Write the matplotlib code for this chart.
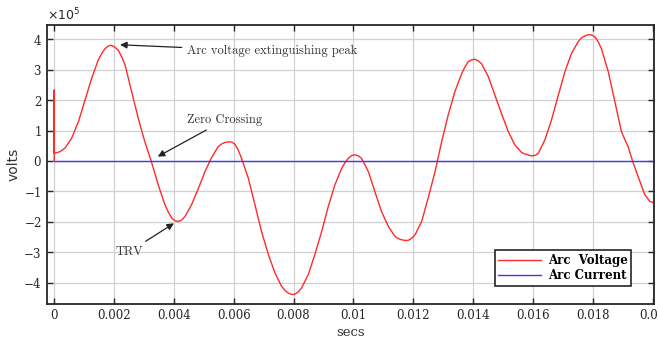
import matplotlib
matplotlib.use("Agg")
import matplotlib.pyplot as plt
from matplotlib.ticker import ScalarFormatter

# arc voltage samples (time in s, voltage in V)
t_voltage = [
    0.0, 0.0, 0.0, 0.00018, 0.00036, 0.00058, 0.00081, 0.00103, 0.00125, 0.00147,
    0.00160, 0.00170, 0.00180, 0.00189, 0.00200, 0.00214, 0.00225, 0.00237, 0.00259, 0.00281,
    0.00303, 0.00324, 0.00348, 0.00370, 0.00382, 0.00393, 0.00403, 0.00413, 0.00425, 0.00437,
    0.00459, 0.00482, 0.00504, 0.00526, 0.00548, 0.00560, 0.00571, 0.00587, 0.00595, 0.00604,
    0.00615, 0.00626, 0.00649, 0.00671, 0.00693, 0.00716, 0.00738, 0.00760, 0.00771, 0.00782,
    0.00792, 0.00802, 0.00815, 0.00827, 0.00849, 0.00871, 0.00894, 0.00916, 0.00938, 0.00961,
    0.00972, 0.00983, 0.00995, 0.01005, 0.01016, 0.01027, 0.01050, 0.01072, 0.01094, 0.01117,
    0.01139, 0.01150, 0.01161, 0.01172, 0.01183, 0.01195, 0.01206, 0.01228, 0.01250, 0.01273,
    0.01295, 0.01317, 0.01339, 0.01362, 0.01373, 0.01384, 0.01395, 0.01406, 0.01417, 0.01428,
    0.01451, 0.01473, 0.01495, 0.01518, 0.01540, 0.01562, 0.01573, 0.01584, 0.01593, 0.01601,
    0.01609, 0.01618, 0.01640, 0.01662, 0.01685, 0.01707, 0.01729, 0.01751, 0.01762, 0.01774,
    0.01782, 0.01790, 0.01798, 0.01807, 0.01818, 0.01829, 0.01852, 0.01874, 0.01896, 0.01919,
    0.01933, 0.01952, 0.01974, 0.01991, 0.02000, 0.02010,
]
v_voltage = [
    0.0, 2.33e5, 0.25e5, 0.30e5, 0.42e5, 0.74e5, 1.29e5, 2.00e5, 2.71e5, 3.31e5,
    3.55e5, 3.69e5, 3.77e5, 3.80e5, 3.76e5, 3.64e5, 3.43e5, 3.15e5, 2.27e5, 1.40e5,
    0.63e5, 0.0, -0.79e5, -1.44e5, -1.69e5, -1.88e5, -1.96e5, -1.99e5, -1.95e5, -1.83e5,
    -1.44e5, -0.90e5, -0.35e5, 0.11e5, 0.47e5, 0.56e5, 0.61e5, 0.63e5, 0.61e5, 0.55e5,
    0.36e5, 0.09e5, -0.57e5, -1.44e5, -2.32e5, -3.08e5, -3.68e5, -4.12e5, -4.25e5, -4.34e5,
    -4.38e5, -4.39e5, -4.31e5, -4.17e5, -3.74e5, -3.08e5, -2.32e5, -1.50e5, -0.79e5, -0.24e5,
    -0.06e5, 0.09e5, 0.18e5, 0.20e5, 0.17e5, 0.09e5, -0.35e5, -1.01e5, -1.66e5, -2.15e5,
    -2.48e5, -2.55e5, -2.59e5, -2.61e5, -2.61e5, -2.54e5, -2.43e5, -1.99e5, -1.22e5, -0.35e5,
    0.63e5, 1.51e5, 2.27e5, 2.87e5, 3.09e5, 3.26e5, 3.32e5, 3.34e5, 3.29e5, 3.20e5,
    2.77e5, 2.16e5, 1.56e5, 0.96e5, 0.52e5, 0.28e5, 0.23e5, 0.20e5, 0.17e5, 0.17e5,
    0.19e5, 0.25e5, 0.69e5, 1.34e5, 2.16e5, 2.93e5, 3.53e5, 3.91e5, 4.04e5, 4.11e5,
    4.14e5, 4.15e5, 4.13e5, 4.08e5, 3.92e5, 3.69e5, 2.93e5, 1.95e5, 0.96e5, 0.45e5,
    0.0, -0.52e5, -1.11e5, -1.33e5, -1.36e5, -1.36e5,
]

# arc current stays at zero over the window
t_current = [0.0, 0.0201]
i_current = [0.0, 0.0]

plt.rcParams["axes.unicode_minus"] = False

fig = plt.figure(figsize=(6.58, 3.41), dpi=100)
ax = fig.add_axes([0.071, 0.1085, 0.923, 0.8185])

ax.plot(t_voltage, v_voltage, color="#ff2a2a", lw=1.0, label="Arc  Voltage")
ax.plot(t_current, i_current, color="#3a3aff", lw=1.0, label="Arc Current")

ax.set_xlim(-0.00025, 0.02005)
ax.set_ylim(-4.7e5, 4.47e5)
ax.set_xticks([0, 0.002, 0.004, 0.006, 0.008, 0.01, 0.012, 0.014, 0.016, 0.018, 0.02])
ax.set_xticklabels(["0", "0.002", "0.004", "0.006", "0.008", "0.01", "0.012",
                    "0.014", "0.016", "0.018", "0.02"])
ax.set_yticks([-4e5, -3e5, -2e5, -1e5, 0, 1e5, 2e5, 3e5, 4e5])

fmt = ScalarFormatter(useMathText=True)
fmt.set_powerlimits((0, 0))
ax.yaxis.set_major_formatter(fmt)
ax.yaxis.offsetText.set_fontsize(9)
ax.yaxis.offsetText.set_color("#333333")

ax.grid(True, color="#d0d0d0", lw=0.9)
ax.set_axisbelow(True)
ax.tick_params(direction="in", top=True, right=True, length=4, width=1.0,
               colors="#262626", labelsize=8.5)
for lab in ax.get_xticklabels() + ax.get_yticklabels():
    lab.set_family("DejaVu Serif")
for s in ax.spines.values():
    s.set_color("#262626")
    s.set_linewidth(1.3)

ax.set_xlabel("secs", family="DejaVu Serif", fontsize=9.5, color="#333333", labelpad=3)
ax.set_ylabel("volts", family="DejaVu Sans", fontsize=10, color="#333333", labelpad=2)

ann = dict(family="cmr10", fontsize=9, color="#333333")
arrow = dict(arrowstyle="-|>", color="#222222", lw=0.9, mutation_scale=10)
ax.annotate("Arc voltage extinguishing peak", xy=(0.00211, 3.82e5),
            xytext=(0.00445, 3.6e5), va="center", arrowprops=arrow, **ann)
ax.annotate("Zero Crossing", xy=(0.00338, 0.1e5),
            xytext=(0.00445, 1.35e5), va="center", arrowprops=arrow, **ann)
ax.annotate("TRV", xy=(0.00408, -2.0e5),
            xytext=(0.00205, -2.98e5), va="center", arrowprops=arrow, **ann)

leg = ax.legend(loc="lower right", bbox_to_anchor=(0.972, 0.045), fancybox=False,
                framealpha=1, edgecolor="#262626", handlelength=3.6,
                prop={"family": "DejaVu Serif", "weight": "bold", "size": 8.5},
                borderpad=0.3, labelspacing=0.2, handletextpad=0.6)
leg.get_frame().set_linewidth(1.2)

fig.savefig("out.png", dpi=100)
